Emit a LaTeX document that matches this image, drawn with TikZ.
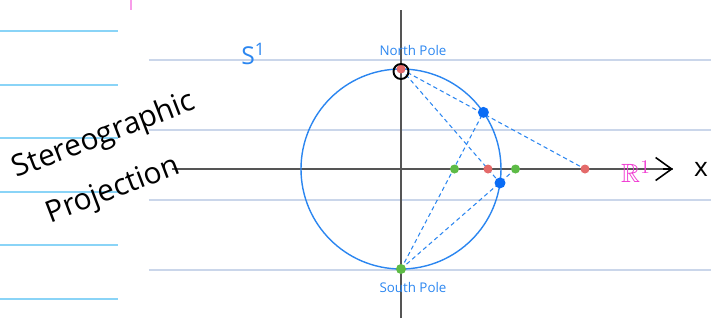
\documentclass[tikz,border=0pt]{standalone}
\usepackage{amsmath,amssymb}
\usepackage{xcolor}
\usepackage{fontspec}
\usetikzlibrary{arrows.meta,calc}

\newfontfamily\handfont{Open Sans}

\definecolor{inkblue}{HTML}{2B86F0}
\definecolor{dotblue}{HTML}{0A6CF5}
\definecolor{dotred}{HTML}{E46A6A}
\definecolor{dotgreen}{HTML}{5DBB46}
\definecolor{inkpink}{HTML}{F03AD2}
\definecolor{ruleleft}{HTML}{8AD4F7}
\definecolor{ruleright}{HTML}{CAD6EA}
\definecolor{axisgrey}{HTML}{555555}

\begin{document}
\begin{tikzpicture}[>=Latex,
		proj/.style={inkblue, line width=0.6pt, dash pattern=on 2.4pt off 1.8pt},
		axisline/.style={axisgrey, line width=1.1pt},
		handlabel/.style={font=\handfont}]

		\useasboundingbox (-8.02,-3.02) rectangle (6.2,3.38);

		% notebook rules
		\foreach \y in {2.76,1.68,0.62,-0.46,-1.52,-2.6}
			\draw[ruleleft, line width=1pt] (-8.02,\y) -- (-5.66,\y);
		\foreach \y in {2.18,0.78,-0.62,-2.02}
			\draw[ruleright, line width=0.9pt] (-5.04,\y) -- (6.2,\y);
		\draw[inkpink!50, line width=1pt] (-5.4,3.38) -- (-5.4,3.18);

		% axes
		\coordinate (xstart) at (-4.58,0);
		\coordinate (xend) at (5.44,0);
		\coordinate (ytop) at (0,3.18);
		\coordinate (ybot) at (0,-2.98);
		\draw[axisline] (xstart) -- (xend);
		\draw[axisline, -{Straight Barb[length=3.2mm,width=4.6mm]}, line width=0.9pt, black] ($(xend)+(-0.2,0)$) -- (xend);
		\draw[axisline] (ybot) -- (ytop);

		% circle
		\draw[inkblue, line width=0.8pt] (0,0) circle (2);

		% poles and points on the circle
		\coordinate (N) at (0,2);
		\coordinate (S) at (0,-2);
		\coordinate (P1) at (34.5:2);
		\coordinate (P2) at (-8:2);

		% images on the line
		\coordinate (R1) at (1.74,0);
		\coordinate (R2) at (3.68,0);
		\coordinate (G1) at (1.07,0);
		\coordinate (G2) at (2.29,0);

		% projection lines
		\draw[proj] (N) -- (R2);
		\draw[proj] (N) -- (P2);
		\draw[proj] (S) -- (P1);
		\draw[proj] (S) -- (G2);

		% dots
		\fill[dotred] (N) circle (0.09);
		\draw[black, line width=1.1pt] ($(N)+(0,-0.05)$) circle (0.15);
		\fill[dotgreen] (S) circle (0.1);
		\fill[dotblue] (P1) circle (0.11);
		\fill[dotblue] (P2) circle (0.11);
		\fill[dotred] (R1) circle (0.09);
		\fill[dotred] (R2) circle (0.09);
		\fill[dotgreen] (G1) circle (0.09);
		\fill[dotgreen] (G2) circle (0.09);

		% labels
		\node[handlabel, inkblue, font=\handfont\fontsize{7.6}{8}\selectfont] (northlbl) at (0.24,2.38) {North Pole};
		\node[handlabel, inkblue, font=\handfont\fontsize{7.6}{8}\selectfont] (southlbl) at (0.24,-2.36) {South Pole};
		\node[handlabel, inkblue, font=\handfont\fontsize{14}{16}\selectfont] (circlbl) at (-2.95,2.3) {S\textsuperscript{1}};
		\node[inkpink, font=\fontsize{15}{17}\selectfont] (linelbl) at (4.7,-0.05) {\(\mathbb{R}^1\)};
		\node[handlabel, font=\handfont\fontsize{15}{17}\selectfont] (xlbl) at (6.0,0) {x};

		% title
		\node[handlabel, rotate=21, align=left, inner sep=0pt,
			font=\handfont\fontsize{17}{31}\selectfont] (title) at (-5.74,0.15)
			{Stereographic\\\hspace{0.5em}Projection};

	\end{tikzpicture}
\end{document}
